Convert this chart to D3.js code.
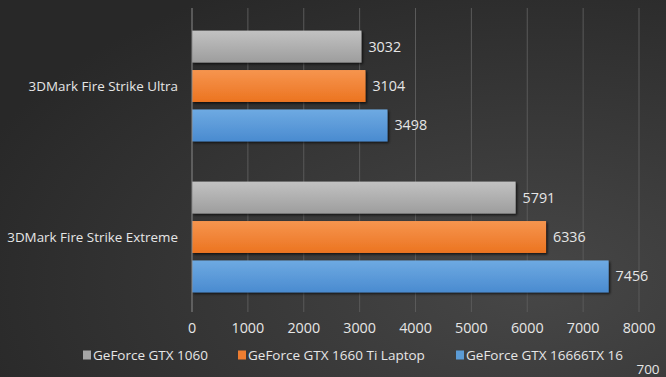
<!DOCTYPE html>
<html>
<head>
<meta charset="utf-8">
<script src="https://cdn.jsdelivr.net/npm/d3@7"></script>
<style>
  html, body { margin: 0; padding: 0; background: #333; }
  svg { display: block; }
</style>
</head>
<body>
<div id="chart"></div>
<script>
const categories = ['3DMark Fire Strike Ultra', '3DMark Fire Strike Extreme']
const seriesNames = ['GeForce GTX 1060', 'GeForce GTX 1660 Ti Laptop', 'GeForce GTX 16666TX 16']
const gtx1060 = [3032, 5791]
const gtx1660TiLaptop = [3104, 6336]
const gtx1660Other = [3498, 7456]
const xTicks = [0, 1000, 2000, 3000, 4000, 5000, 6000, 7000, 8000]

const series = [
  { name: seriesNames[0], values: gtx1060, top: '#c2c2c2', bottom: '#9d9d9d', key: '#a5a5a5' },
  { name: seriesNames[1], values: gtx1660TiLaptop, top: '#f6954f', bottom: '#ec7420', key: '#ed7d31' },
  { name: seriesNames[2], values: gtx1660Other, top: '#6eaae2', bottom: '#4a8bd0', key: '#5b9bd5' },
]

const width = 666
const height = 377
const font = '"Open Sans", Lato, sans-serif'

const svg = d3.select('#chart').append('svg')
  .attr('width', width)
  .attr('height', height)

const defs = svg.append('defs')
const bg = defs.append('radialGradient')
  .attr('id', 'bg')
  .attr('cx', '0.8').attr('cy', '0.75').attr('r', '0.9')
bg.append('stop').attr('offset', '0%').attr('stop-color', '#474747')
bg.append('stop').attr('offset', '100%').attr('stop-color', '#282828')

series.forEach((s, i) => {
  const g = defs.append('linearGradient')
    .attr('id', `bar${i}`)
    .attr('x1', 0).attr('y1', 0).attr('x2', 0).attr('y2', 1)
  g.append('stop').attr('offset', '0%').attr('stop-color', s.top)
  g.append('stop').attr('offset', '100%').attr('stop-color', s.bottom)
})

const shadow = defs.append('filter').attr('id', 'shadow')
  .attr('x', '-5%').attr('y', '-20%').attr('width', '115%').attr('height', '150%')
shadow.append('feDropShadow')
  .attr('dx', 1.5).attr('dy', 1.5).attr('stdDeviation', 1.2)
  .attr('flood-color', '#000').attr('flood-opacity', 0.7)

svg.append('rect').attr('width', width).attr('height', height).attr('fill', 'url(#bg)')

const x = d3.scaleLinear().domain([0, 8000]).range([192, 639])
const y0 = d3.scaleBand().domain(categories).range([10.5, 312.5])
const y1 = d3.scaleBand().domain(seriesNames).range([0, y0.bandwidth()])
  .paddingInner(0.19).paddingOuter(0.51)

// gridlines
svg.append('g')
  .selectAll('line')
  .data(xTicks.slice(1))
  .join('line')
  .attr('x1', (d) => x(d)).attr('x2', (d) => x(d))
  .attr('y1', 8).attr('y2', 312)
  .attr('stroke', '#5a5a5a')
  .attr('stroke-width', 1)

// bars
const groups = svg.append('g')
  .selectAll('g')
  .data(categories)
  .join('g')
  .attr('transform', (c) => `translate(0,${y0(c)})`)

series.forEach((s, i) => {
  groups.append('rect')
    .attr('x', x(0))
    .attr('y', y1(s.name))
    .attr('width', (c, j) => x(s.values[j]) - x(0))
    .attr('height', y1.bandwidth())
    .attr('fill', `url(#bar${i})`)
    .attr('filter', 'url(#shadow)')

  groups.append('text')
    .attr('x', (c, j) => x(s.values[j]) + 7)
    .attr('y', y1(s.name) + y1.bandwidth() / 2)
    .attr('dy', '0.35em')
    .attr('fill', '#e6e6e6')
    .attr('font-family', font)
    .attr('font-size', 14.3)
    .text((c, j) => s.values[j])
})

// y axis line
svg.append('line')
  .attr('x1', x(0)).attr('x2', x(0))
  .attr('y1', 8).attr('y2', 312)
  .attr('stroke', '#8a8a8a')

// category labels
svg.append('g')
  .selectAll('text')
  .data(categories)
  .join('text')
  .attr('x', 178)
  .attr('y', (c) => y0(c) + y0.bandwidth() / 2)
  .attr('dy', '0.35em')
  .attr('text-anchor', 'end')
  .attr('fill', '#e6e6e6')
  .attr('font-family', font)
  .attr('font-size', 13.4)
  .text((c) => c)

// x tick labels
svg.append('g')
  .selectAll('text')
  .data(xTicks)
  .join('text')
  .attr('x', (d) => x(d))
  .attr('y', 333)
  .attr('text-anchor', 'middle')
  .attr('fill', '#e6e6e6')
  .attr('font-family', font)
  .attr('font-size', 14.3)
  .text((d) => d)

// legend
const legendX = [83, 238, 456]
const legend = svg.append('g')
  .selectAll('g')
  .data(series)
  .join('g')
  .attr('transform', (s, i) => `translate(${legendX[i]},355)`)
legend.append('rect')
  .attr('x', 0).attr('y', -4.5)
  .attr('width', 8).attr('height', 9)
  .attr('fill', (s) => s.key)
legend.append('text')
  .attr('x', 10)
  .attr('dy', '0.35em')
  .attr('fill', '#e6e6e6')
  .attr('font-family', font)
  .attr('font-size', 13.5)
  .text((s) => s.name)

// stray label at bottom right
svg.append('text')
  .attr('x', 648).attr('y', 374)
  .attr('text-anchor', 'middle')
  .attr('fill', '#e6e6e6')
  .attr('font-family', font)
  .attr('font-size', 13.5)
  .text('700')
</script>
</body>
</html>
